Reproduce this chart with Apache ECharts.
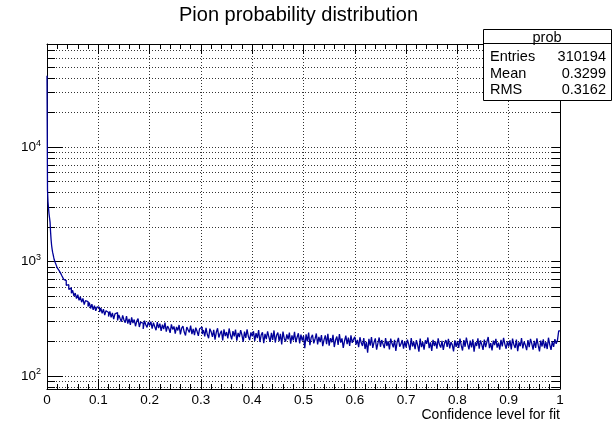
<!DOCTYPE html>
<html>
<head>
<meta charset="utf-8">
<script src="https://cdn.jsdelivr.net/npm/echarts@6/dist/echarts.min.js"></script>
<style>html,body{margin:0;padding:0;background:#fff}#c{width:613px;height:421px}</style>
</head>
<body>
<div id="c"></div>
<script>
// ---- data ----
const titleText = 'Pion probability distribution';
const xAxisTitle = 'Confidence level for fit';
const xTickLabels = ['0','0.1','0.2','0.3','0.4','0.5','0.6','0.7','0.8','0.9','1'];
const statsName = 'prob';
const statsLabels = ['Entries', 'Mean', 'RMS'];
const statsValues = ['310194', '0.3299', '0.3162'];

// fine bins: width 0.001 starting at 0
const fineStart = 0, fineWidth = 0.001;
const fineCounts = [42000,4200,3300,2900,2600,2400,2200,1800,1550,1380,
  1280,1200,1150,1090,1040,1010,980,950,930,900,
  880,870,850,840,830,815,800,780,770,750];

// coarser sampling: width 0.0025 starting at 0.03 (counts per 0.001 bin)
const coarseStart = 0.03, coarseWidth = 0.0025;
const countsA = [742,698,681,619,628,571,589,528,560,499,530,474,514,458,492,441,476,421,455,447,405,438,389,424,378,412,371,401];
const countsB = [398,362,391,352,384,340,372,359,331,367,326,355,314,349,358,306,341,318,298,338,309,292,333,287,316,279,325,290,311,272,302,318,268,296,289,258,304,280,266,297];
const countsC = [276,298,259,292,270,251,296,262,287,248,281,257,293,244,273,260,238,282,255,271,234,268,250,279,231,262,273,242,226,268,253,240,275,232,258,228,264,246,224,259];
const countsD = [268,233,252,222,263,230,214,259,243,220,253,208,241,261,217,235,249,205,256,223,242,213,260,229,209,247,222,254,204,238,219,251,228,199,244,215,255,222,206,240];
const countsE = [222,246,203,237,214,252,198,228,241,194,233,210,245,219,199,238,207,250,196,227,240,202,233,189,244,213,200,231,209,239,192,226,205,243,197,218,236,193,230,204];
const countsF = [224,175,231,201,239,186,217,229,193,211,235,189,220,198,228,182,207,226,190,234,184,214,197,229,179,206,221,187,232,196,213,176,203,225,190,216,183,227,195,209];
const countsG = [220,188,207,179,218,195,183,214,172,199,160,211,184,219,176,197,213,170,193,217,180,206,190,175,214,183,201,171,212,192,178,207,166,198,215,180,190,206,173,201];
const countsH = [178,208,190,168,214,181,199,172,206,186,163,212,179,198,170,205,191,217,175,197,166,207,183,200,173,213,188,177,203,169,194,206,180,211,174,198,187,164,205,180];
const countsI = [201,176,212,185,167,206,180,216,190,171,204,178,209,163,197,183,213,173,205,188,169,208,179,199,219,175,194,167,204,186,211,177,196,170,207,181,215,190,173,201];
const countsJ = [181,205,171,212,188,176,208,165,197,182,214,174,200,186,168,206,179,211,192,170,203,176,213,186,164,204,181,209,175,198,172,216,188,169,201,180,210,191,205,248];

const xMin = 0, xMax = 1;
const yMin = 77, yMax = 79400;

// ---- build histogram outline ----
const coarseCounts = [].concat(countsA,countsB,countsC,countsD,countsE,countsF,countsG,countsH,countsI,countsJ);
const pts = [];
fineCounts.forEach((v,i)=>pts.push([+(fineStart+i*fineWidth).toFixed(4), v]));
coarseCounts.forEach((v,i)=>pts.push([+(coarseStart+i*coarseWidth).toFixed(4), v]));
pts.push([xMax, coarseCounts[coarseCounts.length-1]]);

const FONT = '"Liberation Sans", Arial, Helvetica, sans-serif';
const dotted = {show:true, lineStyle:{color:'#333', type:[1,2], width:1}};

function logLabel(v){
  const e = Math.log10(v);
  if (Math.abs(e - Math.round(e)) > 1e-6) return '';
  return '{b|10}{s|' + Math.round(e) + '}';
}

const chart = echarts.init(document.getElementById('c'), null, {renderer:'canvas'});
chart.setOption({
  animation:false,
  backgroundColor:'#fff',
  textStyle:{fontFamily:FONT},
  title:{text:titleText, left:174, top:0, textStyle:{fontFamily:FONT, fontSize:20, fontWeight:'normal', color:'#000'}},
  grid:{left:47, right:53, top:44, bottom:32, containLabel:false, outerBoundsMode:'none'},
  xAxis:[{
    type:'value', min:xMin, max:xMax, interval:0.1, position:'bottom',
    name:xAxisTitle, nameLocation:'end', nameGap:0, nameMoveOverlap:false,
    nameTextStyle:{fontFamily:FONT, fontSize:14, color:'#000', align:'right', verticalAlign:'top', padding:[19,0,0,0]},
    axisLine:{show:true, onZero:false, lineStyle:{color:'#000', width:1}},
    axisTick:{show:true, inside:true, length:10, lineStyle:{color:'#000'}},
    minorTick:{show:true, splitNumber:5, length:5, lineStyle:{color:'#000'}},
    splitLine:dotted,
    axisLabel:{fontFamily:FONT, fontSize:13.5, color:'#000', margin:4,
      formatter:(v)=>{const i=Math.round(v*10); return xTickLabels[i]!==undefined?xTickLabels[i]:'';}}
  },{
    type:'value', min:xMin, max:xMax, interval:0.1, position:'top',
    axisLine:{show:true, onZero:false, lineStyle:{color:'#000', width:1}},
    axisTick:{show:true, inside:true, length:10, lineStyle:{color:'#000'}},
    minorTick:{show:true, splitNumber:5, length:5, lineStyle:{color:'#000'}},
    splitLine:{show:false}, axisLabel:{show:false}
  }],
  yAxis:[{
    type:'log', logBase:10, min:yMin, max:yMax, position:'left',
    axisLine:{show:true, onZero:false, lineStyle:{color:'#000', width:1}},
    axisTick:{show:true, inside:true, length:16, lineStyle:{color:'#000'}},
    minorTick:{show:true, splitNumber:9, length:8, lineStyle:{color:'#000'}},
    splitLine:dotted,
    minorSplitLine:dotted,
    axisLabel:{fontFamily:FONT, color:'#000', margin:6, formatter:logLabel,
      rich:{b:{fontFamily:FONT, fontSize:13.5, color:'#000'}, s:{fontFamily:FONT, fontSize:9, color:'#000', padding:[0,0,8,0]}}}
  },{
    type:'log', logBase:10, min:yMin, max:yMax, position:'right',
    axisLine:{show:true, onZero:false, lineStyle:{color:'#000', width:1}},
    axisTick:{show:true, inside:true, length:8, lineStyle:{color:'#000'}},
    minorTick:{show:true, splitNumber:9, length:8, lineStyle:{color:'#000'}},
    splitLine:{show:false}, axisLabel:{show:false}
  }],
  series:[{
    type:'line', step:'end', data:pts, xAxisIndex:0, yAxisIndex:0,
    showSymbol:false, symbol:'none', clip:true,
    lineStyle:{color:'#000099', width:1.3}
  }],
  graphic:[
    {type:'rect', z:100, shape:{x:483.5, y:29.5, width:128, height:71}, style:{fill:'#fff', stroke:'#000', lineWidth:1}},
    {type:'line', z:101, shape:{x1:483.5, y1:43.5, x2:611.5, y2:43.5}, style:{stroke:'#000', lineWidth:1}},
    {type:'text', z:101, x:547, y:37.5, style:{text:statsName, font:'14.5px '+FONT, fill:'#000', align:'center', verticalAlign:'middle'}},
    {type:'text', z:101, x:490, y:57, style:{text:statsLabels[0], font:'14.5px '+FONT, fill:'#000', align:'left', verticalAlign:'middle'}},
    {type:'text', z:101, x:490, y:73.5, style:{text:statsLabels[1], font:'14.5px '+FONT, fill:'#000', align:'left', verticalAlign:'middle'}},
    {type:'text', z:101, x:490, y:90, style:{text:statsLabels[2], font:'14.5px '+FONT, fill:'#000', align:'left', verticalAlign:'middle'}},
    {type:'text', z:101, x:606, y:57, style:{text:statsValues[0], font:'14.5px '+FONT, fill:'#000', align:'right', verticalAlign:'middle'}},
    {type:'text', z:101, x:606, y:73.5, style:{text:statsValues[1], font:'14.5px '+FONT, fill:'#000', align:'right', verticalAlign:'middle'}},
    {type:'text', z:101, x:606, y:90, style:{text:statsValues[2], font:'14.5px '+FONT, fill:'#000', align:'right', verticalAlign:'middle'}}
  ]
});
</script>
</body>
</html>
